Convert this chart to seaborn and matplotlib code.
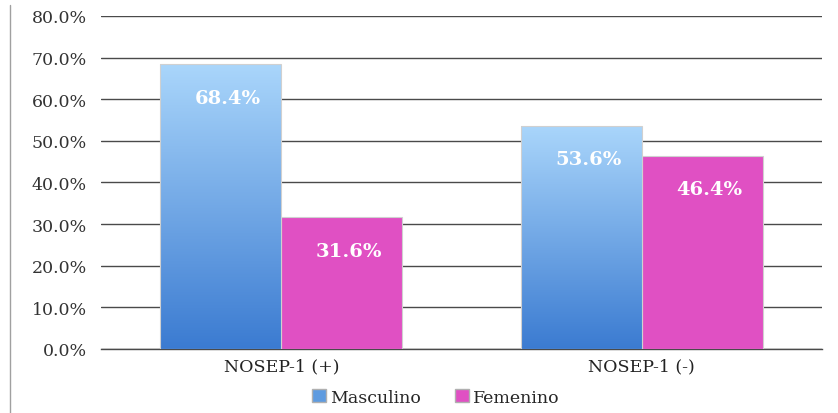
import numpy as np
import pandas as pd
import matplotlib
matplotlib.use("Agg")
import matplotlib.pyplot as plt
import seaborn as sns
from matplotlib.patches import Patch
from matplotlib.lines import Line2D
from matplotlib.colors import LinearSegmentedColormap

categories = ["NOSEP-1 (+)", "NOSEP-1 (-)"]
series = ["Masculino", "Femenino"]
masculino = [68.4, 53.6]
femenino = [31.6, 46.4]
y_ticks = [0, 10, 20, 30, 40, 50, 60, 70, 80]

df = pd.DataFrame({
    "cat": categories * 2,
    "sexo": [series[0]] * 2 + [series[1]] * 2,
    "val": masculino + femenino,
})

sns.set_theme(style="white")
plt.rcParams["font.family"] = ["DejaVu Serif"]

fig = plt.figure(figsize=(8.38, 4.14), dpi=100)
ax = fig.add_axes([0.1205, 0.1546, 0.8605, 0.8044])

blue_top = "#AAD6FB"
blue_bot = "#3B7BD1"
pink = "#E050C3"

sns.barplot(data=df, x="cat", y="val", hue="sexo", order=categories,
            hue_order=series, palette=[blue_bot, pink], width=0.67,
            gap=0, ax=ax, legend=False, saturation=1,
            edgecolor="#D0D0D0", linewidth=0.8, zorder=3)

ax.set_ylim(0, 80)
ax.set_yticks(y_ticks)
ax.set_yticklabels([f"{t:.1f}%" for t in y_ticks], fontsize=12.5, color="#333333")
ax.tick_params(axis="x", labelsize=12.5, colors="#222222", length=0, pad=6)
ax.tick_params(axis="y", length=0, pad=10)
ax.set_xlabel("")
ax.set_ylabel("")
ax.grid(axis="y", color="#4a4a4a", linewidth=1.0, zorder=0)
ax.set_axisbelow(True)
for s in ["top", "right", "left"]:
    ax.spines[s].set_visible(False)
ax.spines["bottom"].set_color("#4a4a4a")
ax.spines["bottom"].set_linewidth(1.0)

cmap = LinearSegmentedColormap.from_list("blue", [blue_bot, blue_top])
grad = np.linspace(0, 1, 256).reshape(-1, 1)

patches = ax.patches
n = len(categories)
for i, p in enumerate(patches[:2 * n]):
    x0, y0 = p.get_x(), p.get_y()
    w, h = p.get_width(), p.get_height()
    if i < n:
        im = ax.imshow(grad, cmap=cmap, origin="lower", aspect="auto",
                       extent=[x0, x0 + w, y0, y0 + h], zorder=3.5)
        im.set_clip_path(p)
        p.set_zorder(3.6)
        p.set_facecolor("none")
    ax.text(x0 + w / 2 + 0.02, h - 8, f"{h:.1f}%", ha="center", va="center",
            color="white", fontsize=14, fontweight="bold", zorder=5)

ax.set_xlim(-0.5, 1.5)

handles = [Patch(facecolor="#5E9BE0", edgecolor="#B0B0B0", label=series[0]),
           Patch(facecolor=pink, edgecolor="#B0B0B0", label=series[1])]
fig.legend(handles=handles, loc="center", bbox_to_anchor=(0.52, 0.038), ncol=2,
           frameon=False, fontsize=12.5, handlelength=0.8, handleheight=0.8,
           handletextpad=0.2, columnspacing=2.0)

fig.add_artist(Line2D([0.012, 0.012], [0.0, 0.985], transform=fig.transFigure,
                      color="#A0A0A0", linewidth=1.0))

fig.savefig("out.png", dpi=100)
